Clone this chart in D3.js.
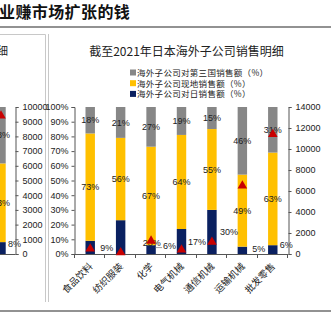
<!DOCTYPE html>
<html><head><meta charset="utf-8">
<script src="https://cdn.jsdelivr.net/npm/d3@7/dist/d3.min.js"></script>
<style>
html,body{margin:0;padding:0;background:#fff;overflow:hidden}
svg{display:block}
text{font-family:"Noto Sans CJK SC","Noto Sans",sans-serif}
.num{font-family:Arial,"Liberation Sans",sans-serif}
</style></head>
<body><svg id="c" width="331" height="322"></svg>
<script>
// ---- data ----
const pageTitle = "业赚市场扩张的钱";
const chartTitle = "截至2021年日本海外子公司销售明细";
const categories = ["食品饮料","纺织服装","化学","电气机械","通信机械","运输机械","批发零售"];
const seriesNames = ["海外子公司对第三国销售额（%）","海外子公司现地销售额（%）","海外子公司对日销售额（%）"];
const toJapan = [9,23,6,17,30,5,6];
const localSales = [73,56,67,64,55,49,63];
const thirdCountry = [18,21,27,19,15,46,31];
const totalSales = [500,150,1250,400,1150,6500,11400];
const pctTicks = [0,0.1,0.2,0.3,0.4,0.5,0.6,0.7,0.8,0.9,1];
const salesTicks = [0,2000,4000,6000,8000,10000,12000,14000];
// left (cut-off) chart fragment
const leftCategories = [""];
const leftToJapan = [8];
const leftLocal = [53];
const leftThird = [38];
const leftTotal = [9400];
const leftTicks = [0,1000,2000,3000,4000,5000,6000,7000,8000,9000,10000];

// ---- layout / style ----
const colors = {third:"#878787", local:"#FFC000", japan:"#0A2060", tri:"#C80000", axis:"#555"};
const navyLabelOffset = [[10,0],[22,6],[12,-4],[6.5,0],[8,0],[10,-1],[7,-5]];

const svg = d3.select("#c");

// page header
svg.append("text").attr("x",-1).attr("y",18).attr("font-size",16).attr("font-weight",700)
  .attr("letter-spacing",0.4).attr("fill","#111").text(pageTitle);
svg.append("line").attr("x1",0).attr("x2",331).attr("y1",27).attr("y2",27).attr("stroke","#6e6e6e").attr("stroke-width",1.4);
svg.append("line").attr("x1",0).attr("x2",331).attr("y1",311).attr("y2",311).attr("stroke","#6e6e6e").attr("stroke-width",1.4);
// left panel box edges
svg.append("path").attr("d","M0,34.5H45.5V302").attr("fill","none").attr("stroke","#c8c8c8").attr("stroke-width",1);
svg.append("line").attr("x1",48.5).attr("x2",48.5).attr("y1",34).attr("y2",302).attr("stroke","#c8c8c8").attr("stroke-width",1);

const yTop = 107, yBot = 254;

function stackData(j,l,t,cats){
  return cats.map((c,i)=>({cat:c, japan:j[i], local:l[i], third:t[i]}));
}
const keys = ["japan","local","third"];
const stackGen = d3.stack().keys(keys).offset(d3.stackOffsetExpand);

// ---------- left fragment ----------
{
  const g = svg.append("g");
  const x = d3.scaleBand().domain(leftCategories).range([-14.2,16.2]).paddingInner(0.69).paddingOuter(0.345);
  const y = d3.scaleLinear().domain([0,1]).range([yBot,yTop]);
  const yr = d3.scaleLinear().domain([0,10000]).range([yBot,yTop]);
  const data = stackData(leftToJapan,leftLocal,leftThird,leftCategories);
  const st = stackGen(data);
  st.forEach(s=>{
    g.selectAll(null).data(s).enter().append("rect")
      .attr("x",d=>x(d.data.cat)).attr("width",x.bandwidth())
      .attr("y",d=>y(d[1])).attr("height",d=>y(d[0])-y(d[1]))
      .attr("fill",colors[s.key]);
  });
  st.forEach(s=>{
    if(s.key==="japan"){
      g.selectAll(null).data(s).enter().append("text").attr("class","num")
        .attr("x",d=>x(d.data.cat)+x.bandwidth()/2+7).attr("y",d=>y((d[0]+d[1])/2)-4)
        .attr("dy","0.35em").attr("font-size",9).attr("fill","#222").text(d=>d.data.japan+"%");
    } else {
      g.selectAll(null).data(s).enter().append("text").attr("class","num")
        .attr("x",d=>x(d.data.cat)+x.bandwidth()/2).attr("y",d=>y((d[0]+d[1])/2))
        .attr("dy","0.35em").attr("text-anchor","middle").attr("font-size",9).attr("fill","#222")
        .text(d=>d.data[s.key]+"%");
    }
  });
  g.selectAll(null).data(leftTotal).enter().append("path")
    .attr("transform",(d,i)=>`translate(${x(leftCategories[i])+x.bandwidth()/2},${yr(d)})`)
    .attr("d",d3.symbol().type(d3.symbolTriangle).size(40)).attr("fill",colors.tri);
  const ax = g.append("g").attr("transform","translate(15.5,0)")
    .call(d3.axisRight(yr).tickValues(leftTicks).tickSize(3).tickPadding(4).tickFormat(d3.format("d")));
  ax.selectAll("path,line").attr("stroke",colors.axis);
  ax.selectAll("text").attr("class","num").attr("font-size",9).attr("fill","#222");
  g.append("line").attr("x1",0).attr("x2",15.5).attr("y1",yBot+0.5).attr("y2",yBot+0.5).attr("stroke",colors.axis);
  svg.append("text").attr("x",8).attr("y",55).attr("text-anchor","end").attr("font-size",11).attr("fill","#222").text("明细");
}

// ---------- main chart ----------
const x = d3.scaleBand().domain(categories).range([75,288]).paddingInner(0.69).paddingOuter(0.345);
const y = d3.scaleLinear().domain([0,1]).range([yBot,yTop]);
const yr = d3.scaleLinear().domain([0,14000]).range([yBot,yTop]);
const data = stackData(toJapan,localSales,thirdCountry,categories);
const st = stackGen(data);

svg.append("text").attr("x",186.5).attr("y",56).attr("text-anchor","middle").attr("font-size",12)
  .attr("fill","#222").text(chartTitle);

// legend (top->bottom: third, local, japan)
const legKeys = ["third","local","japan"];
const leg = svg.append("g");
legKeys.forEach((k,i)=>{
  const yy = 73 + i*10.7;
  leg.append("rect").attr("x",130).attr("y",yy-3.5).attr("width",6).attr("height",6).attr("fill",colors[k]);
  leg.append("text").attr("x",137).attr("y",yy).attr("dy","0.35em").attr("font-size",8.5)
    .attr("letter-spacing",0.3).attr("fill","#222").text(seriesNames[i]);
});

const bars = svg.append("g");
st.forEach(s=>{
  bars.selectAll(null).data(s).enter().append("rect")
    .attr("x",d=>x(d.data.cat)).attr("width",x.bandwidth())
    .attr("y",d=>y(d[1])).attr("height",d=>y(d[0])-y(d[1]))
    .attr("fill",colors[s.key]);
});

// axes
const axL = svg.append("g").attr("transform","translate(74.5,0)")
  .call(d3.axisLeft(y).tickValues(pctTicks).tickSize(3).tickPadding(3).tickFormat(d3.format(".0%")));
const axR = svg.append("g").attr("transform","translate(288.5,0)")
  .call(d3.axisRight(yr).tickValues(salesTicks).tickSize(3).tickPadding(4).tickFormat(d3.format("d")));
[axL,axR].forEach(a=>{
  a.selectAll("path,line").attr("stroke",colors.axis);
  a.selectAll("text").attr("class","num").attr("font-size",9).attr("fill","#222");
});
// x axis
const xa = svg.append("g");
xa.append("line").attr("x1",74.5).attr("x2",288.5).attr("y1",yBot+0.5).attr("y2",yBot+0.5).attr("stroke",colors.axis);
const bounds = d3.range(categories.length+1).map(i=>x.range()[0]+i*x.step());
xa.selectAll(null).data(bounds).enter().append("line")
  .attr("x1",d=>Math.round(d)-0.5).attr("x2",d=>Math.round(d)-0.5).attr("y1",yBot).attr("y2",yBot+4).attr("stroke",colors.axis);
xa.selectAll(null).data(categories).enter().append("text")
  .attr("transform",d=>`translate(${x(d)+x.bandwidth()/2+3},${yBot+13}) rotate(-45)`)
  .attr("text-anchor","end").attr("font-size",9.5).attr("fill","#222").text(d=>d);

// segment labels
st.forEach(s=>{
  if(s.key==="japan"){
    const gl = bars.selectAll(null).data(s).enter();
    gl.append("text").attr("class","num")
      .attr("x",(d,i)=>x(d.data.cat)+x.bandwidth()/2+navyLabelOffset[i][0])
      .attr("y",(d,i)=>y((d[0]+d[1])/2)+navyLabelOffset[i][1])
      .attr("dy","0.35em").attr("font-size",9).attr("fill","#222").text(d=>d.data.japan+"%");
  } else {
    bars.selectAll(null).data(s).enter().append("text").attr("class","num")
      .attr("x",d=>x(d.data.cat)+x.bandwidth()/2).attr("y",d=>y((d[0]+d[1])/2))
      .attr("dy","0.35em").attr("text-anchor","middle").attr("font-size",9).attr("fill","#222")
      .text(d=>d.data[s.key]+"%");
  }
});
// leader line for 化学
{
  const i = 2, d = st[0][i];
  const x0 = x(categories[i])+x.bandwidth(), y0 = y((d[0]+d[1])/2);
  svg.append("line").attr("x1",x0).attr("y1",y0-2).attr("x2",x(categories[i])+x.bandwidth()/2+navyLabelOffset[i][0]-1)
    .attr("y2",y0-2).attr("stroke","#888").attr("stroke-width",0.8);
}

// triangles (total sales, right axis)
svg.selectAll(null).data(totalSales).enter().append("path")
  .attr("transform",(d,i)=>`translate(${x(categories[i])+x.bandwidth()/2},${yr(d)})`)
  .attr("d",d3.symbol().type(d3.symbolTriangle).size(40)).attr("fill",colors.tri);
</script></body></html>
